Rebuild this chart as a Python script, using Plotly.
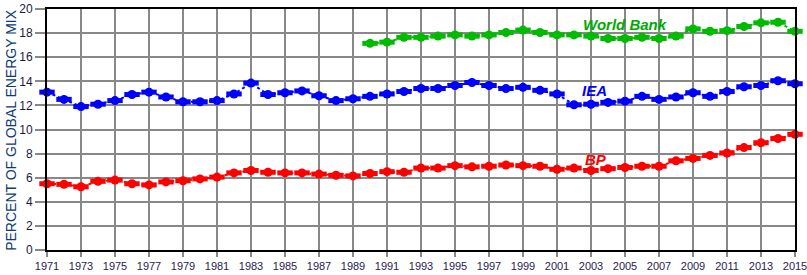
import plotly.graph_objects as go

years = list(range(1971, 2016))
iea = [13.1, 12.5, 11.9, 12.1, 12.4, 12.9, 13.1, 12.7, 12.3, 12.3, 12.4, 12.95, 13.85, 12.9,
       13.05, 13.2, 12.8, 12.4, 12.55, 12.75, 12.95, 13.15, 13.4, 13.4, 13.65, 13.9, 13.65, 13.4, 13.5,
       13.25, 12.95, 12.05, 12.1, 12.25, 12.35, 12.75, 12.5, 12.7, 13.05, 12.75, 13.15, 13.55, 13.65, 14.05, 13.8]
wb_years = list(range(1990, 2016))
wb = [17.15, 17.25, 17.65, 17.65, 17.75, 17.85, 17.75, 17.85, 18.05, 18.25, 18.05, 17.85, 17.85,
      17.75, 17.55, 17.55, 17.65, 17.55, 17.75, 18.35, 18.15, 18.2, 18.55, 18.85, 18.9, 18.15]
bp = [5.5, 5.45, 5.25, 5.7, 5.8, 5.5, 5.4, 5.65, 5.75, 5.9, 6.05, 6.4, 6.6, 6.45,
      6.4, 6.4, 6.3, 6.2, 6.15, 6.35, 6.5, 6.45, 6.8, 6.8, 7.0, 6.9, 6.95, 7.05, 7.0,
      6.95, 6.7, 6.8, 6.6, 6.75, 6.85, 6.95, 6.95, 7.4, 7.6, 7.85, 8.05, 8.5, 8.9, 9.25, 9.6]
xtick_vals = list(range(1971, 2016, 2))
ytick_vals = list(range(0, 21, 2))
y_title = "PERCENT OF GLOBAL ENERGY MIX"

series = [
    ("IEA", years, iea, "#0000ff"),
    ("World Bank", wb_years, wb, "#00bb00"),
    ("BP", years, bp, "#ff0000"),
]

fig = go.Figure()
for name, xs, ys, col in series:
    fig.add_trace(go.Scatter(x=xs, y=ys, mode="lines+markers", name=name,
                             line=dict(color=col, width=2, dash="dot"),
                             marker=dict(symbol="circle", size=9, color=col, line=dict(width=0)),
                             cliponaxis=False, showlegend=False))
    fig.add_trace(go.Scatter(x=xs, y=ys, mode="markers", name=name,
                             marker=dict(symbol="line-ew", size=11, color=col,
                                         line=dict(width=5, color=col)),
                             cliponaxis=False, showlegend=False, hoverinfo="skip"))

labels = [
    ("World Bank", 2005.0, 18.75, "#00aa00"),
    ("IEA", 2003.2, 13.2, "#0000ff"),
    ("BP", 2003.3, 7.5, "#ff0000"),
]
for txt, x, y, col in labels:
    fig.add_annotation(x=x, y=y, text="<b><i>" + txt + "</i></b>", showarrow=False,
                       font=dict(family="Liberation Sans, Arial", size=15, color=col))

fig.add_annotation(xref="paper", yref="paper", x=-0.049, y=0.5, xanchor="center", yanchor="middle",
                   text=y_title, textangle=-90, showarrow=False,
                   font=dict(family="Liberation Sans, Arial", size=14, color="#0a3a78"))

fig.update_layout(
    width=807, height=275,
    margin=dict(l=47, r=12, t=9, b=25, autoexpand=False),
    paper_bgcolor="white", plot_bgcolor="white",
    font=dict(family="Liberation Sans, Arial", size=12, color="#1a1a40"),
)
fig.update_xaxes(range=[1971, 2015.0001], tickvals=xtick_vals, ticktext=[str(v) for v in xtick_vals],
                 showgrid=True, gridcolor="#888888", gridwidth=2, automargin=False,
                 ticklabeloverflow="allow",
                 showline=True, linecolor="black", linewidth=2, mirror=True,
                 ticks="outside", ticklen=5, tickcolor="#888888", tickwidth=2,
                 tickfont=dict(size=11, color="#2a1a50"), zeroline=False)
fig.update_yaxes(range=[0, 20], tickvals=ytick_vals,
                 showgrid=True, gridcolor="#888888", gridwidth=2, automargin=False,
                 showline=True, linecolor="black", linewidth=2, mirror=True,
                 ticks="outside", ticklen=10, tickcolor="#888888", tickwidth=2,
                 tickfont=dict(size=12, color="#1a1a40"), zeroline=False)

fig.write_html("out.html")
